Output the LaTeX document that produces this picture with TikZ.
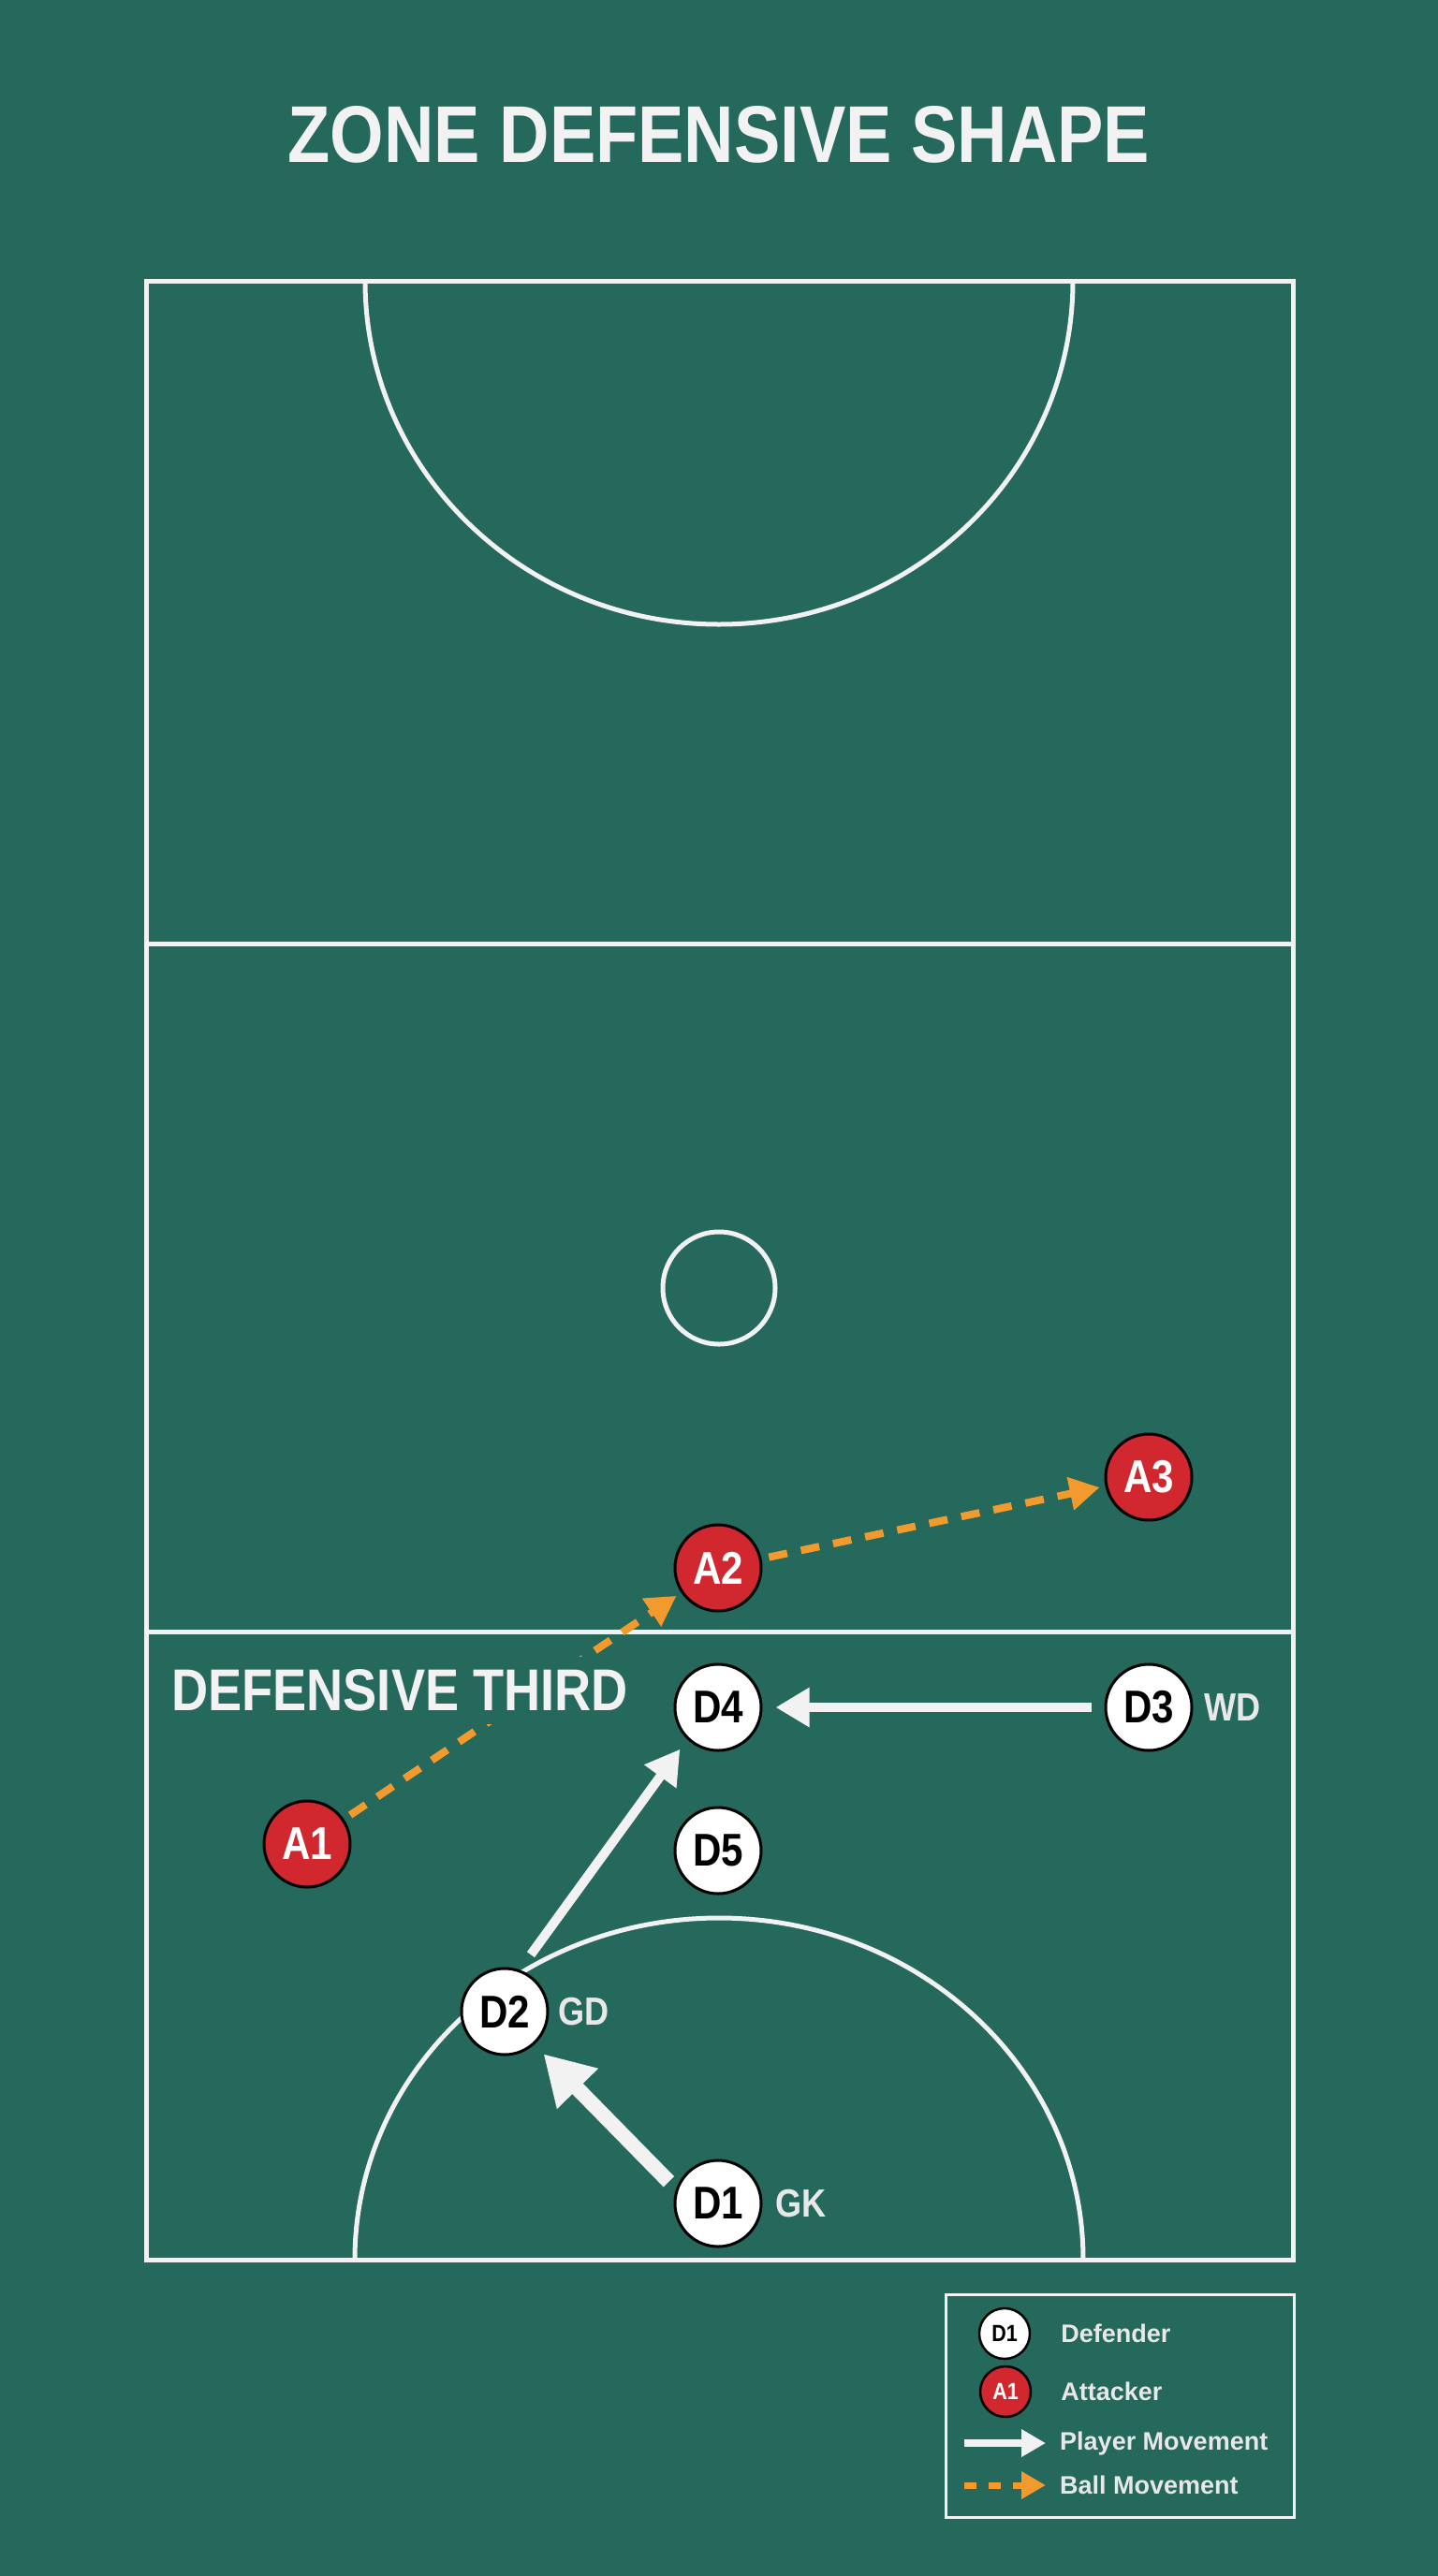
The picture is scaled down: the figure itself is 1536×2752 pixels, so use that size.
\documentclass[tikz,border=0pt]{standalone}
\usepackage{fontspec}
\setmainfont{Liberation Sans}
\newfontfamily\narrowfont[FakeStretch=0.86]{Liberation Sans}
\usetikzlibrary{arrows.meta,positioning}
\definecolor{pitch}{RGB}{37,104,92}
\definecolor{courtline}{RGB}{242,242,242}
\definecolor{attackred}{RGB}{208,40,46}
\definecolor{ballorange}{RGB}{242,154,46}
\definecolor{tagwhite}{RGB}{232,232,232}
\tikzset{
  defender/.style={circle, draw=black, line width=3pt, fill=white, text=black,
    minimum size=92pt, inner sep=0pt, font=\narrowfont\bfseries\fontsize{49}{49}\selectfont},
  attacker/.style={defender, fill=attackred, text=white},
  role/.style={text=tagwhite, inner sep=0pt, anchor=west,
    font=\narrowfont\bfseries\fontsize{42}{42}\selectfont},
  move/.style={draw=courtline, line width=10pt, -{Triangle[length=36pt,width=40pt]},
    shorten <=14pt, shorten >=14pt},
  bigmove/.style={move, line width=16pt, -{Triangle[length=52pt,width=58pt]}},
  pass/.style={draw=ballorange, line width=8pt, dash pattern=on 20pt off 15pt,
    -{Triangle[length=32pt,width=34pt]}, shorten <=8pt, shorten >=6pt},
  keytext/.style={text=tagwhite, inner sep=0pt, anchor=west,
    font=\bfseries\fontsize{27}{27}\selectfont},
}
\begin{document}
\begin{tikzpicture}[x=1pt, y=-1pt]
    \fill[pitch] (0,0) rectangle (1536,2752);
    \useasboundingbox (0,0) rectangle (1536,2752);
    % Title
    \node[text=courtline, font=\narrowfont\bfseries\fontsize{86}{86}\selectfont] (title) at (768,144) {ZONE DEFENSIVE SHAPE};
    % Court markings
    \begin{scope}[draw=courtline, line width=5pt]
        \draw (156,300) rectangle (1381,2414);
        \draw (156,1008) -- (1381,1008);
        \draw (156,1743) -- (1381,1743);
        \draw (768,1376) circle[radius=60];
        \draw (1146,300) arc[start angle=0, end angle=180, x radius=378, y radius=367];
        \draw (379,2414) arc[start angle=180, end angle=360, x radius=389, y radius=365];
    \end{scope}
    % Players
    \foreach \name/\x/\y in {D1/767/2354,D2/539/2149,D3/1227/1824,D4/767/1824,D5/767/1977}
    {
        \node[defender] (\name) at (\x,\y) {\name};
    }
    \foreach \name/\x/\y in {A1/328/1970,A2/767/1675,A3/1227/1578}
    {
        \node[attacker] (\name) at (\x,\y) {\name};
    }
    \node[role, right=12pt of D3] (WD) {WD};
    \node[role, right=10pt of D2] (GD) {GD};
    \node[role, right=14pt of D1] (GK) {GK};
    % Movements
    \draw[move] (D3) -- (D4);
    \draw[move, shorten <=20pt, shorten >=13pt] (D2.70) -- (D4.226);
    \draw[bigmove, shorten <=11pt, shorten >=14pt] (D1.161) -- (D2.-48);
    \draw[pass] (A1) -- (A2);
    \draw[pass] (A2) -- (A3);
    \node[fill=pitch, inner sep=14pt, anchor=west, text=courtline,
      font=\narrowfont\bfseries\fontsize{63}{63}\selectfont] (third) at (169,1806) {DEFENSIVE THIRD};
    % Legend
    \draw[draw=courtline, line width=3pt] (1010,2451) rectangle (1382,2689);
    \node[defender, minimum size=54pt, line width=2.5pt,
      font=\narrowfont\bfseries\fontsize{25}{25}\selectfont] (keyD) at (1073,2493) {D1};
    \node[attacker, minimum size=54pt, line width=2.5pt,
      font=\narrowfont\bfseries\fontsize{25}{25}\selectfont] (keyA) at (1074,2555) {A1};
    \node[keytext, right=32pt of keyD] (keyDtext) {Defender};
    \node[keytext, right=31pt of keyA] (keyAtext) {Attacker};
    \coordinate (moveA) at (1030,2610);
    \coordinate (moveB) at (1117,2610);
    \coordinate (passA) at (1030,2655);
    \coordinate (passB) at (1117,2655);
    \draw[move, line width=8pt, shorten <=0pt, shorten >=0pt, -{Triangle[length=26pt,width=28pt]}] (moveA) -- (moveB);
    \draw[pass, line width=7pt, dash pattern=on 13pt off 13pt, shorten <=0pt, shorten >=0pt, -{Triangle[length=26pt,width=28pt]}] (passA) -- (passB);
    \node[keytext] (moveText) at (1132,2610) {Player Movement};
    \node[keytext] (passText) at (1132,2655) {Ball Movement};
\end{tikzpicture}
\end{document}
